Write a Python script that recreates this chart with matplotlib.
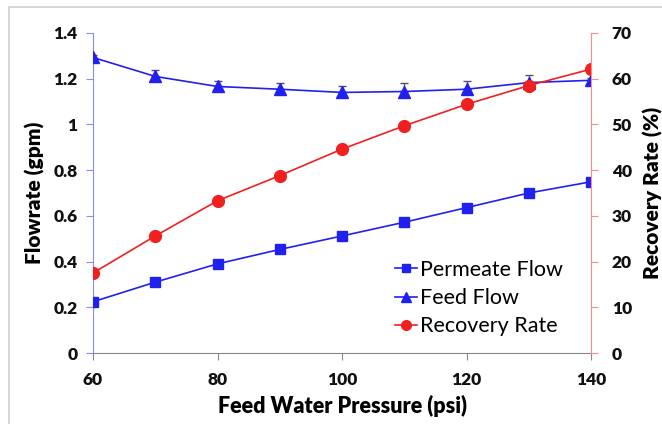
import matplotlib
matplotlib.use("Agg")
from matplotlib import pyplot as plt
from matplotlib.lines import Line2D

pressure = [60, 70, 80, 90, 100, 110, 120, 130, 140]
permeate_flow = [0.224, 0.31, 0.39, 0.453, 0.512, 0.572, 0.636, 0.70, 0.749]
feed_flow = [1.293, 1.21, 1.166, 1.154, 1.14, 1.144, 1.154, 1.183, 1.193]
feed_err = [0.01, 0.029, 0.023, 0.026, 0.03, 0.036, 0.036, 0.032, 0.01]
recovery_rate = [17.5, 25.6, 33.3, 38.8, 44.6, 49.7, 54.4, 58.5, 62.1]

plt.rcParams['font.family'] = ['Lato', 'DejaVu Sans']

blue = '#2020f0'
red = '#f02020'

fig = plt.figure(figsize=(6.62, 4.24), dpi=100)
# light frame round the chart area
fig.patches.append(plt.Rectangle((9 / 662, -0.1), 1.2, 1 - 7 / 424 + 0.1,
                                 transform=fig.transFigure, fill=False,
                                 edgecolor='#d0d0d0', linewidth=1.2))
ax = fig.add_axes([93 / 662, 1 - 353 / 424, 498 / 662, 320 / 424])
ax2 = ax.twinx()

ax.plot(pressure, permeate_flow, color=blue, marker='s', markersize=7,
        linewidth=1.2, zorder=3)
ax.errorbar(pressure, feed_flow, yerr=[[0] * len(feed_err), feed_err],
            color=blue, marker='^', markersize=8, linewidth=1.2,
            ecolor='#505070', elinewidth=1, capsize=3, zorder=3)
ax2.plot(pressure, recovery_rate, color=red, marker='o', markersize=8.5,
         linewidth=1.2)

ax.set_xlim(60, 140)
ax.set_ylim(0, 1.4)
ax2.set_ylim(0, 70)
ax.set_xticks([60, 80, 100, 120, 140])
ax.set_yticks([0, 0.2, 0.4, 0.6, 0.8, 1.0, 1.2, 1.4])
ax.set_yticklabels(['0', '0.2', '0.4', '0.6', '0.8', '1', '1.2', '1.4'])
ax2.set_yticks(range(0, 71, 10))

for a in (ax, ax2):
    a.spines['top'].set_visible(False)
ax.spines['right'].set_visible(False)
ax2.spines['left'].set_visible(False)
ax2.spines['bottom'].set_visible(False)
ax.spines['left'].set_color('#8888ff')
ax.spines['bottom'].set_color('#888888')
ax2.spines['right'].set_color('#ff8888')

ax.tick_params(axis='y', direction='out', length=5, color='#8888ff',
               labelsize=12.5, pad=6)
ax.tick_params(axis='x', direction='out', length=5, color='#888888',
               labelsize=12.5, pad=9)
ax2.tick_params(axis='y', direction='out', length=5, color='#ff8888',
                labelsize=12.5, pad=10)
for lbl in ax.get_xticklabels() + ax.get_yticklabels() + ax2.get_yticklabels():
    lbl.set_fontweight('heavy')
    lbl.set_color('#111111')

ax.set_xlabel('Feed Water Pressure (psi)', fontsize=15.5, fontweight='heavy',
              labelpad=5)
ax.set_ylabel('Flowrate (gpm)', fontsize=15, fontweight='heavy', labelpad=6)
ax2.set_ylabel('Recovery Rate (%)', fontsize=15, fontweight='heavy',
               labelpad=8)

handles = [
    Line2D([], [], color=blue, marker='s', markersize=6, linewidth=1.2),
    Line2D([], [], color=blue, marker='^', markersize=7, linewidth=1.2),
    Line2D([], [], color=red, marker='o', markersize=7, linewidth=1.2),
]
ax.legend(handles, ['Permeate Flow', 'Feed Flow', 'Recovery Rate'],
          loc='lower left', bbox_to_anchor=(0.59, 0.025), frameon=False,
          fontsize=15.5, handlelength=1.0, handletextpad=0.15,
          labelspacing=0.38, borderaxespad=0)

fig.savefig('out.png', dpi=100)
